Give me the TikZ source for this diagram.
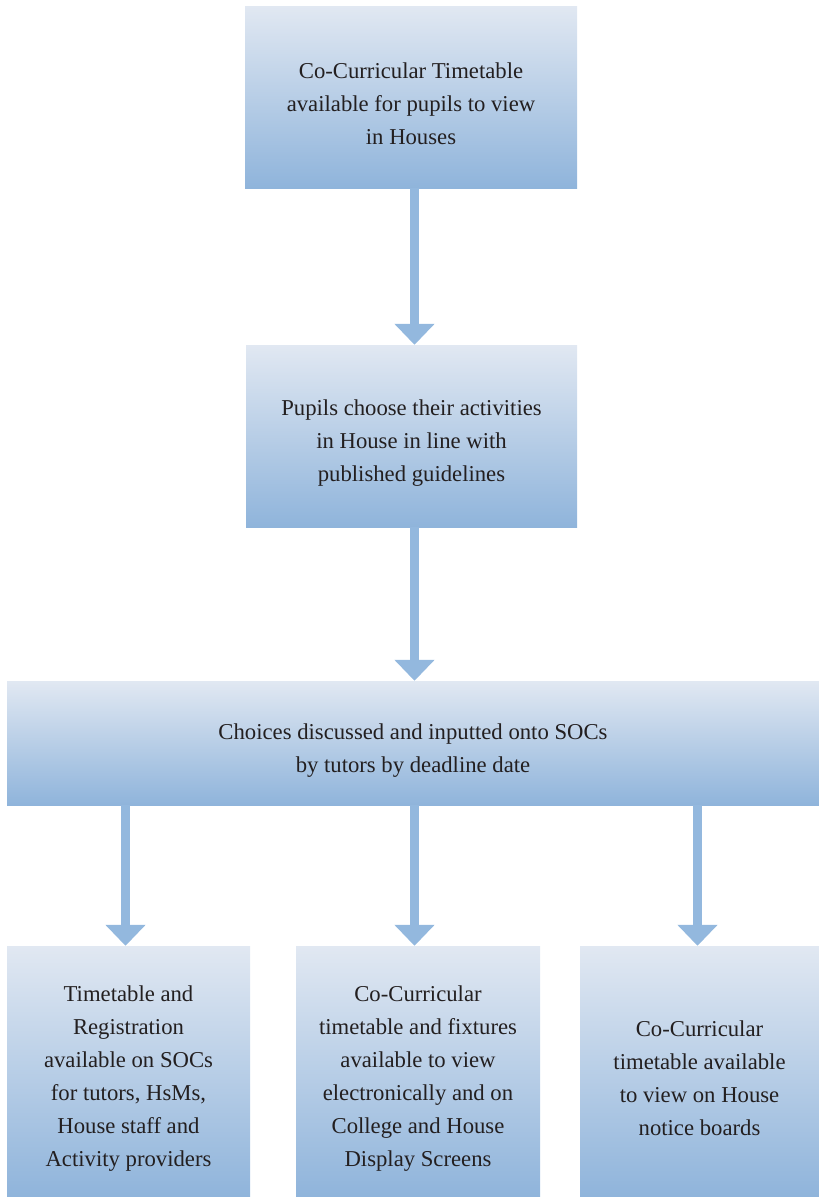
\documentclass[tikz,border=0pt]{standalone}
\usepackage{fontspec}
\setmainfont{Liberation Serif}
\usetikzlibrary{arrows.meta}
\definecolor{topc}{HTML}{E1E8F2}
\definecolor{botc}{HTML}{8FB4DB}
\definecolor{arrc}{HTML}{93B8DE}
\definecolor{txt}{HTML}{231F20}
\newcommand{\topstrut}{\rule{0pt}{30pt}}
\begin{document}
\begin{tikzpicture}[x=1pt,y=-1pt,
  box/.style={rectangle, inner sep=0pt, top color=topc, bottom color=botc, draw=none,
    align=center, text=txt, font=\fontsize{22.7}{33}\selectfont},
  arr/.style={draw=arrc, line width=9.5pt, -{Triangle[width=39pt,length=21pt]}}]
\useasboundingbox (0,0) rectangle (819,1197);
\node[box, minimum width=332pt, minimum height=182pt] (b1) at (411,97)
  {\topstrut Co-Curricular Timetable\\available for pupils to view\\in Houses};
\node[box, minimum width=331pt, minimum height=182pt] (b2) at (411.5,436)
  {\topstrut Pupils choose their activities\\in House in line with\\published guidelines};
\node[box, minimum width=812pt, minimum height=124pt] (b3) at (413,743)
  {\topstrut Choices discussed and inputted onto SOCs\\by tutors by deadline date};
\node[box, minimum width=243pt, minimum height=251pt] (b4) at (128.5,1071.5)
  {\topstrut Timetable and\\Registration\\available on SOCs\\for tutors, HsMs,\\House staff and\\Activity providers};
\node[box, minimum width=244pt, minimum height=251pt] (b5) at (418,1071.5)
  {\topstrut Co-Curricular\\timetable and fixtures\\available to view\\electronically and on\\College and House\\Display Screens};
\node[box, minimum width=239pt, minimum height=251pt] (b6) at (699.5,1071.5)
  {\topstrut Co-Curricular\\timetable available\\to view on House\\notice boards};
\draw[arr] ([xshift=3.5pt]b1.south) -- ([xshift=3.5pt]b1.south |- b2.north);
\draw[arr] ([xshift=3pt]b2.south) -- ([xshift=3pt]b2.south |- b3.north);
\draw[arr] ([xshift=-3pt]b4.north |- b3.south) -- ([xshift=-3pt]b4.north);
\draw[arr] ([xshift=-3.5pt]b5.north |- b3.south) -- ([xshift=-3.5pt]b5.north);
\draw[arr] ([xshift=-2pt]b6.north |- b3.south) -- ([xshift=-2pt]b6.north);
\end{tikzpicture}
\end{document}
